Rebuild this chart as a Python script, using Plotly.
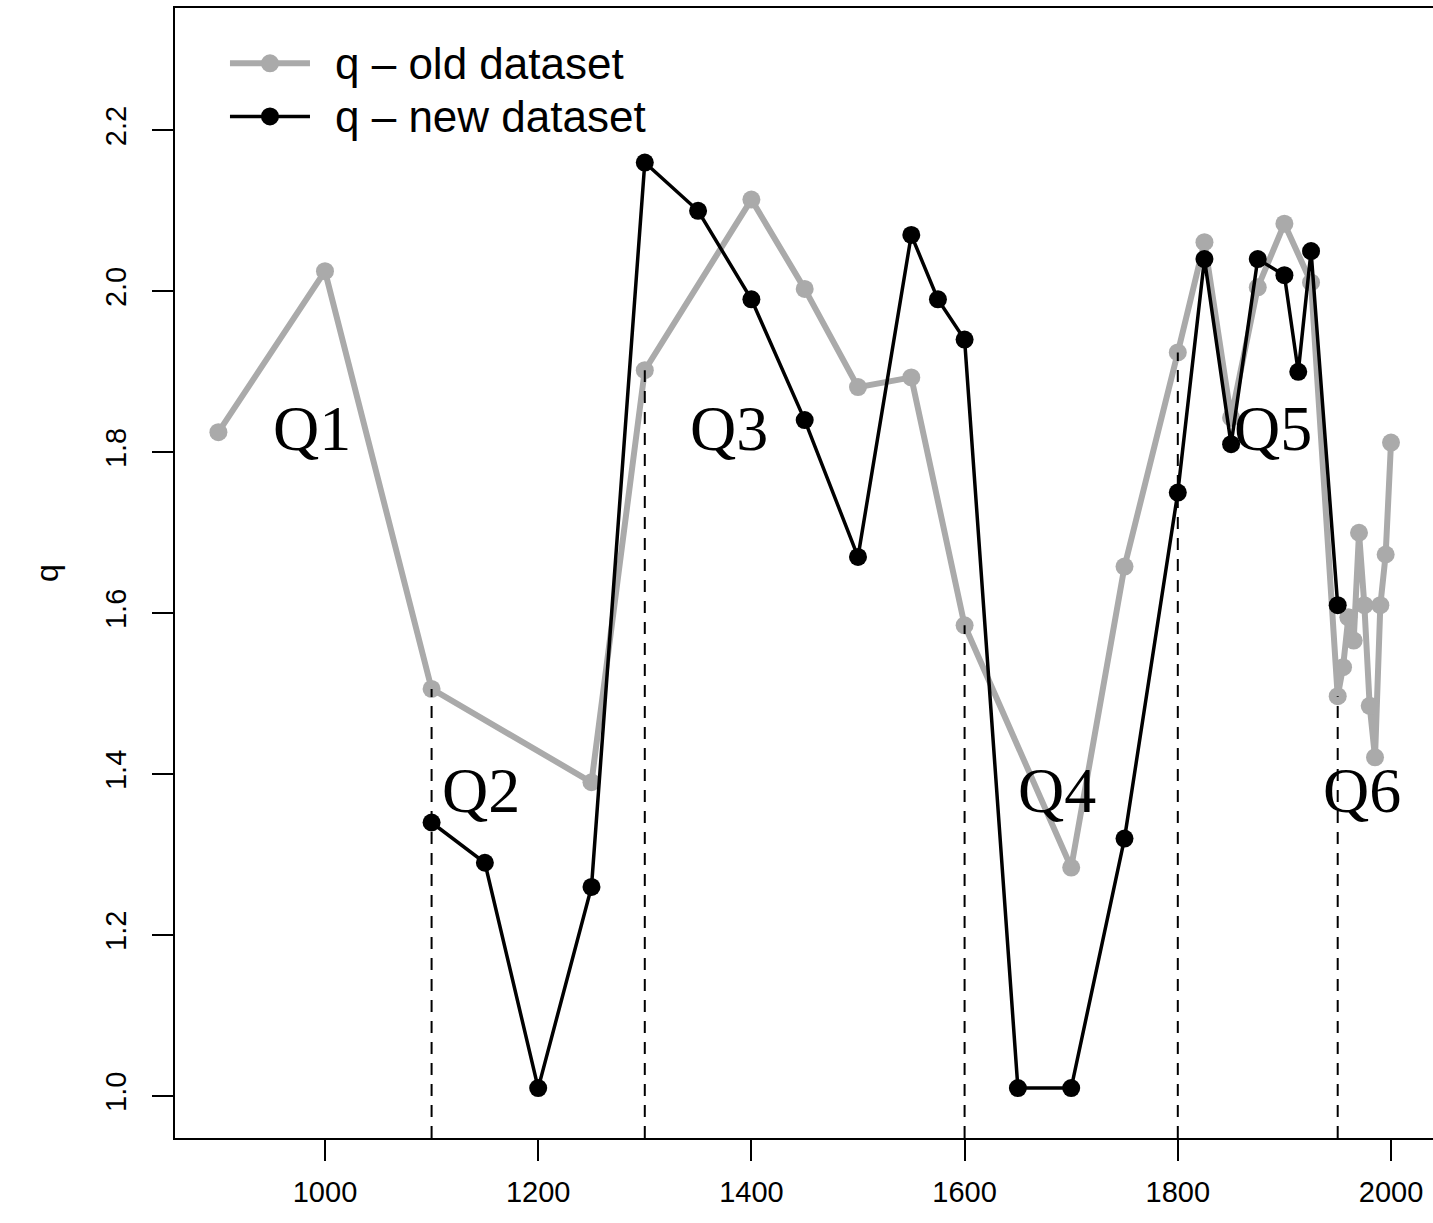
import plotly.graph_objects as go

# q estimates from the old dataset
old_year = [900, 1000, 1100, 1250, 1300, 1400, 1450, 1500, 1550, 1600, 1700, 1750,
            1800, 1825, 1850, 1875, 1900, 1925, 1950, 1955, 1960, 1965, 1970, 1975,
            1980, 1985, 1990, 1995, 2000]
old_q = [1.825, 2.025, 1.506, 1.390, 1.902, 2.114, 2.003, 1.881, 1.893, 1.585, 1.284, 1.658,
         1.924, 2.061, 1.843, 2.005, 2.084, 2.011, 1.497, 1.533, 1.595, 1.566, 1.700, 1.610,
         1.485, 1.421, 1.610, 1.673, 1.812]

# q estimates from the new dataset
new_year = [1100, 1150, 1200, 1250, 1300, 1350, 1400, 1450, 1500, 1550, 1575, 1600,
            1650, 1700, 1750, 1800, 1825, 1850, 1875, 1900, 1913, 1925, 1950]
new_q = [1.34, 1.29, 1.01, 1.26, 2.16, 2.10, 1.99, 1.84, 1.67, 2.07, 1.99, 1.94,
         1.01, 1.01, 1.32, 1.75, 2.04, 1.81, 2.04, 2.02, 1.90, 2.05, 1.61]

# period boundaries and period labels
boundaries = [1100, 1300, 1600, 1800, 1950]
period_labels = ["Q1", "Q2", "Q3", "Q4", "Q5", "Q6"]
label_x = [988, 1146, 1379, 1687, 1889, 1973]
label_y = [1.83, 1.38, 1.83, 1.38, 1.83, 1.38]

x_ticks = [1000, 1200, 1400, 1600, 1800, 2000]
y_ticks = [1.0, 1.2, 1.4, 1.6, 1.8, 2.0, 2.2]

X_RANGE = [859.3, 2039.4]
Y_RANGE = [0.948, 2.352]

GRAY = "#AAAAAA"
SANS = "Liberation Sans, Arial, sans-serif"
SERIF = "Liberation Serif, Times New Roman, serif"

fig = go.Figure()

fig.add_trace(go.Scatter(
    x=old_year, y=old_q, mode="lines+markers", name="q \u2013 old dataset",
    line=dict(color=GRAY, width=6), marker=dict(color=GRAY, size=18),
    showlegend=False,
))

# dashed period boundaries, rising to the old-dataset value
for b in boundaries:
    top = old_q[old_year.index(b)]
    fig.add_trace(go.Scatter(
        x=[b, b], y=[Y_RANGE[0], top], mode="lines",
        line=dict(color="black", width=2, dash="12px,9px"),
        showlegend=False, hoverinfo="skip",
    ))

fig.add_trace(go.Scatter(
    x=new_year, y=new_q, mode="lines+markers", name="q \u2013 new dataset",
    line=dict(color="black", width=3.5), marker=dict(color="black", size=18),
    showlegend=False,
))

for txt, lx, ly in zip(period_labels, label_x, label_y):
    fig.add_annotation(x=lx, y=ly, text=txt, showarrow=False,
                       font=dict(family=SERIF, size=64, color="black"),
                       xanchor="center", yanchor="middle")

# legend block in the upper-left corner
legend_rows = [("q \u2013 old dataset", GRAY, 6, 0.951),
               ("q \u2013 new dataset", "black", 3.5, 0.904)]
lx0, lx1, lxc, ltext = 0.0437, 0.1073, 0.0755, 0.1256
for label, col, w, yy in legend_rows:
    fig.add_shape(type="line", xref="paper", yref="paper", x0=lx0, x1=lx1, y0=yy, y1=yy,
                  line=dict(color=col, width=w))
    fig.add_shape(type="circle", xref="paper", yref="paper",
                  xsizemode="pixel", ysizemode="pixel", xanchor=lxc, yanchor=yy,
                  x0=-9, x1=9, y0=-9, y1=9, fillcolor=col, line=dict(width=0))
    fig.add_annotation(xref="paper", yref="paper", x=ltext, y=yy, text=label,
                       showarrow=False, xanchor="left", yanchor="middle",
                       font=dict(family=SANS, size=44, color="black"))

tick_common = dict(ticks="outside", ticklen=21, tickwidth=2, tickcolor="black",
                   showgrid=False, zeroline=False,
                   tickfont=dict(family=SANS, size=29, color="black"))

# bottom and top frame lines come from the x axis, left side from the y axis
fig.update_xaxes(range=X_RANGE, tickvals=x_ticks,
                 ticktext=[str(v) for v in x_ticks], ticklabelstandoff=6,
                 showline=True, linecolor="black", linewidth=2, mirror=True,
                 **tick_common)
fig.update_yaxes(range=Y_RANGE, tickvals=y_ticks,
                 ticktext=[f"{v:.1f}" for v in y_ticks], tickangle=-90,
                 ticklabelstandoff=14,
                 showline=True, linecolor="black", linewidth=2, mirror=False,
                 title=dict(text="q", font=dict(family=SANS, size=32, color="black"),
                            standoff=32),
                 **tick_common)

fig.update_layout(
    width=1433, height=1223,
    margin=dict(l=175, r=0, t=8, b=85),
    plot_bgcolor="white", paper_bgcolor="white",
    showlegend=False,
)

fig.write_html("out.html")
